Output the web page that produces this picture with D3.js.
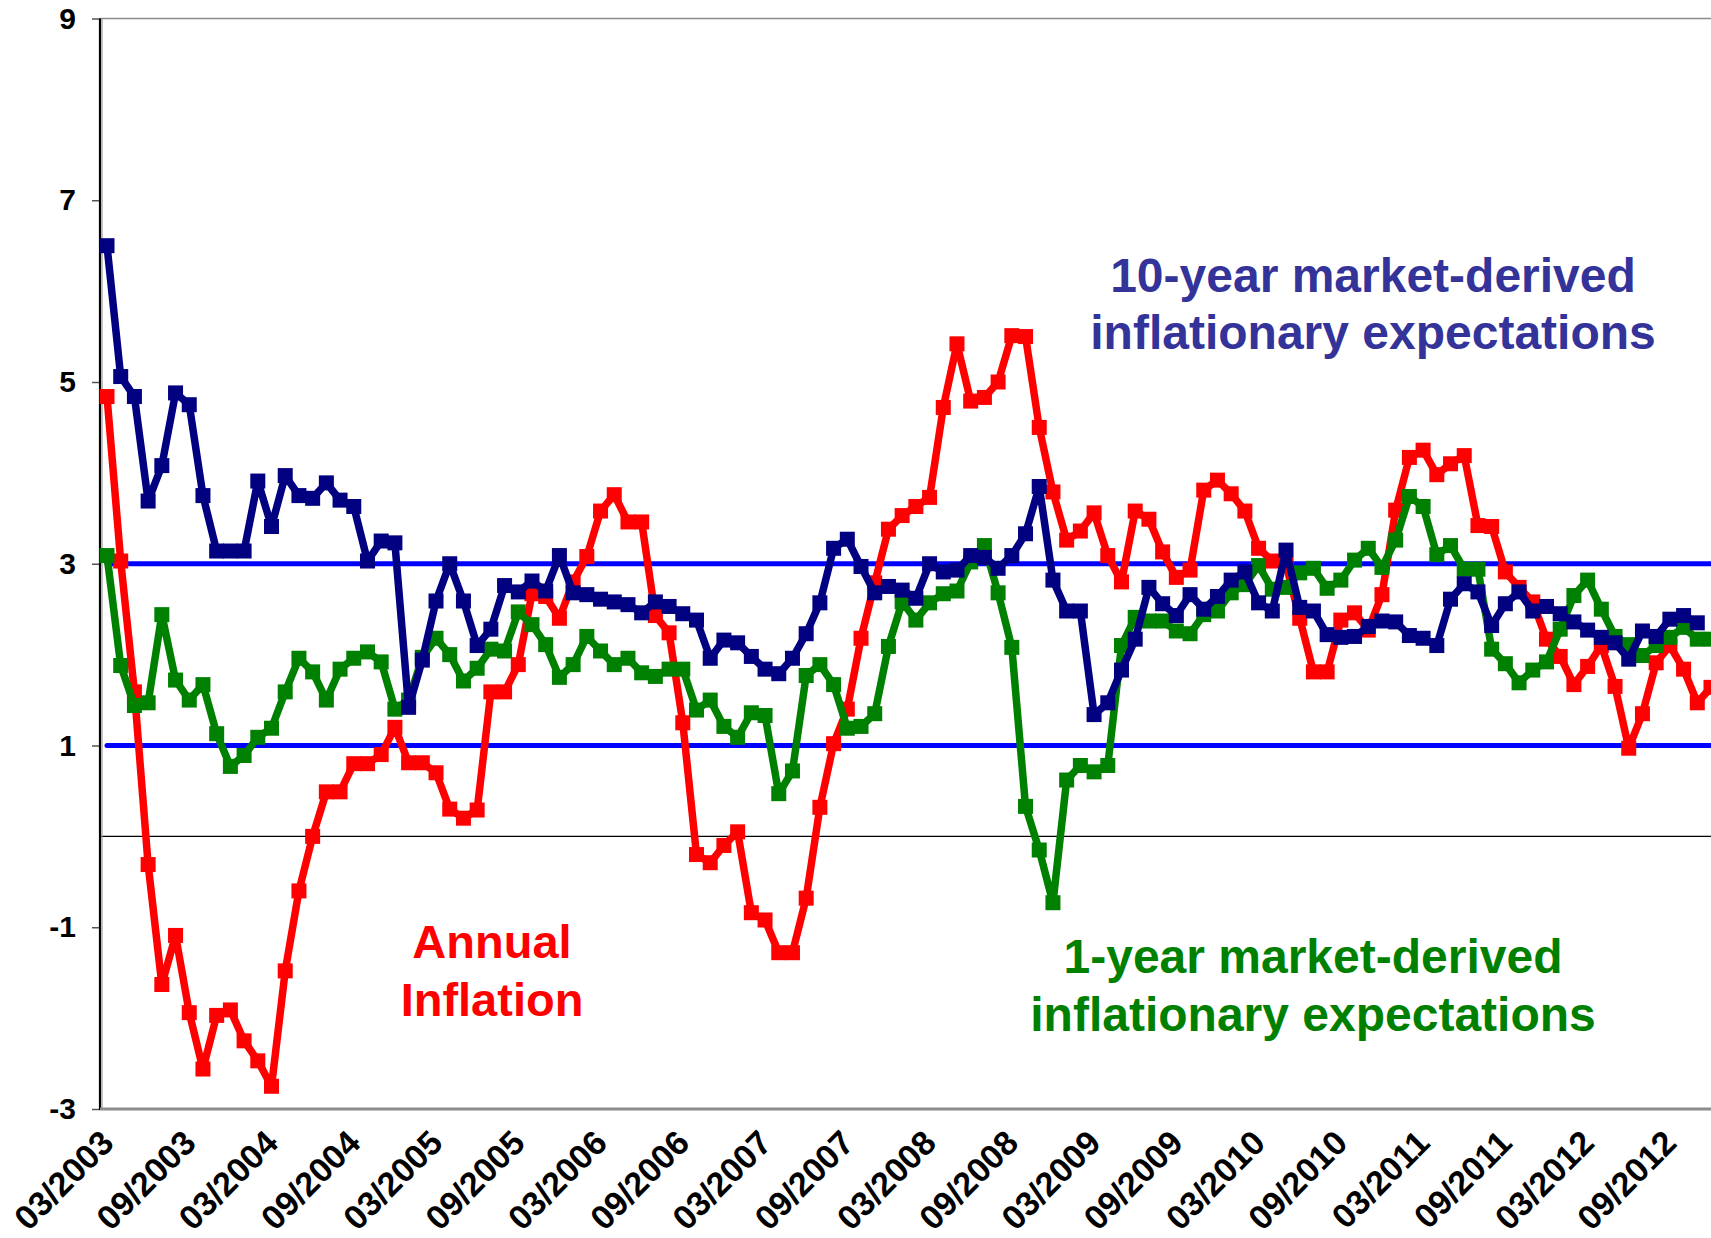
<!DOCTYPE html>
<html><head><meta charset="utf-8">
<script src="https://cdn.jsdelivr.net/npm/d3@7"></script>
<style>body{margin:0;background:#fff} svg{display:block}</style>
</head><body>
<svg id="c" width="1711" height="1238"></svg>
<script>
// ---- data ----
const tickLabels = ["03/2003","09/2003","03/2004","09/2004","03/2005","09/2005","03/2006","09/2006","03/2007","09/2007",
  "03/2008","09/2008","03/2009","09/2009","03/2010","09/2010","03/2011","09/2011","03/2012","09/2012"];
const yTicks = [-3,-1,1,3,5,7,9];
const inflation = [4.84, 3.03, 1.59, -0.31, -1.63, -1.09, -1.94, -2.56, -1.97, -1.91,
 -2.25, -2.47, -2.75, -1.48, -0.60, 0.00, 0.49, 0.49, 0.80, 0.80,
 0.90, 1.20, 0.81, 0.81, 0.70, 0.30, 0.20, 0.29, 1.59, 1.59,
 1.89, 2.67, 2.64, 2.40, 2.80, 3.08, 3.58, 3.76, 3.46, 3.46,
 2.43, 2.24, 1.25, -0.20, -0.29, -0.10, 0.05, -0.84, -0.92, -1.28,
 -1.28, -0.68, 0.32, 1.02, 1.40, 2.18, 2.79, 3.38, 3.53, 3.63,
 3.73, 4.72, 5.42, 4.79, 4.83, 5.00, 5.51, 5.50, 4.50, 3.79,
 3.26, 3.36, 3.56, 3.09, 2.80, 3.58, 3.49, 3.13, 2.85, 2.93,
 3.81, 3.92, 3.77, 3.58, 3.17, 3.03, 2.99, 2.40, 1.81, 1.81,
 2.38, 2.46, 2.27, 2.66, 3.59, 4.17, 4.25, 3.98, 4.10, 4.19,
 3.42, 3.41, 2.91, 2.74, 2.58, 2.17, 1.98, 1.67, 1.87, 2.10,
 1.65, 0.97, 1.35, 1.91, 2.10, 1.84, 1.47, 1.64];
const tenYear = [6.50, 5.06, 4.84, 3.69, 4.08, 4.88, 4.75, 3.75, 3.14, 3.14,
 3.14, 3.91, 3.41, 3.97, 3.75, 3.72, 3.89, 3.70, 3.63, 3.03,
 3.25, 3.23, 1.42, 1.94, 2.59, 3.00, 2.59, 2.10, 2.28, 2.76,
 2.69, 2.81, 2.70, 3.09, 2.68, 2.66, 2.61, 2.58, 2.55, 2.46,
 2.58, 2.53, 2.45, 2.38, 1.96, 2.16, 2.13, 1.98, 1.84, 1.79,
 1.96, 2.23, 2.57, 3.17, 3.27, 2.97, 2.68, 2.75, 2.71, 2.62,
 3.00, 2.91, 2.93, 3.09, 3.07, 2.95, 3.09, 3.33, 3.85, 2.82,
 2.48, 2.48, 1.34, 1.47, 1.83, 2.17, 2.74, 2.56, 2.43, 2.66,
 2.50, 2.64, 2.82, 2.91, 2.57, 2.48, 3.15, 2.52, 2.48, 2.22,
 2.19, 2.20, 2.31, 2.37, 2.36, 2.21, 2.18, 2.10, 2.61, 2.78,
 2.69, 2.32, 2.56, 2.69, 2.48, 2.53, 2.45, 2.36, 2.27, 2.19,
 2.13, 1.95, 2.26, 2.20, 2.39, 2.43, 2.35];
const oneYear = [3.09, 1.88, 1.44, 1.47, 2.44, 1.72, 1.50, 1.67, 1.13, 0.77,
 0.89, 1.09, 1.19, 1.59, 1.96, 1.81, 1.50, 1.84, 1.96, 2.03,
 1.92, 1.40, 1.50, 1.97, 2.18, 2.00, 1.71, 1.85, 2.06, 2.04,
 2.47, 2.33, 2.11, 1.75, 1.89, 2.20, 2.04, 1.89, 1.96, 1.80,
 1.76, 1.84, 1.84, 1.39, 1.50, 1.21, 1.09, 1.36, 1.33, 0.47,
 0.72, 1.77, 1.89, 1.67, 1.19, 1.21, 1.35, 2.09, 2.58, 2.38,
 2.57, 2.67, 2.70, 3.02, 3.20, 2.68, 2.08, 0.33, -0.15, -0.73,
 0.62, 0.78, 0.71, 0.78, 2.10, 2.41, 2.37, 2.37, 2.26, 2.23,
 2.44, 2.48, 2.68, 2.77, 2.98, 2.72, 2.74, 2.90, 2.95, 2.73,
 2.82, 3.04, 3.17, 2.96, 3.26, 3.74, 3.63, 3.10, 3.20, 2.94,
 2.94, 2.06, 1.90, 1.69, 1.83, 1.92, 2.28, 2.65, 2.82, 2.50,
 2.20, 2.11, 1.99, 2.10, 2.19, 2.30, 2.17, 2.17];
const upperBand = 3, lowerBand = 1;

(function () {
const months = d3.range(inflation.length).map(i => {
  const k = 2 + i; const m = k % 12 + 1; const yr = 2003 + Math.floor(k / 12);
  return String(m).padStart(2, "0") + "/" + yr;
});

const svg = d3.select("#c");
const axisX = 100, plotTop = 18.5, plotBottom = 1109, plotRight = 1711;
const x = d3.scalePoint().domain(months).range([107, 1711]);
const y = d3.scaleLinear().domain([-3, 9]).range([plotBottom, plotTop]);
const font = "'Liberation Sans', Arial, sans-serif";

svg.append("line").attr("x1", axisX).attr("x2", plotRight).attr("y1", plotTop).attr("y2", plotTop)
  .attr("stroke", "#8c8c8c").attr("stroke-width", 1.5);

svg.append("line").attr("x1", axisX).attr("x2", plotRight).attr("y1", y(0)).attr("y2", y(0))
  .attr("stroke", "#000").attr("stroke-width", 1.2);

[upperBand, lowerBand].forEach(v => {
  svg.append("path")
    .attr("d", d3.line()([[x(months[0]), y(v)], [plotRight + 5, y(v)]]))
    .attr("stroke", "#0000ff").attr("stroke-width", 5).attr("stroke-linecap", "round").attr("fill", "none");
});

const yAxis = d3.axisLeft(y).tickValues(yTicks).tickSize(8).tickPadding(16).tickFormat(d => String(d));
const gy = svg.append("g").attr("transform", `translate(${axisX},0)`).call(yAxis);
gy.select(".domain").remove();
gy.selectAll(".tick line").attr("stroke", "#555").attr("stroke-width", 1.5);
gy.selectAll(".tick text").attr("font-family", font).attr("font-weight", "bold")
  .attr("font-size", 30).attr("fill", "#000");
svg.append("line").attr("x1", axisX).attr("x2", axisX).attr("y1", plotTop).attr("y2", plotBottom + 1)
  .attr("stroke", "#000").attr("stroke-width", 2.2);
svg.append("line").attr("x1", axisX + 2).attr("x2", axisX + 2).attr("y1", plotTop).attr("y2", plotBottom)
  .attr("stroke", "#999").attr("stroke-width", 1.2);

const xAxis = d3.axisBottom(x).tickValues(tickLabels).tickSize(0);
const gx = svg.append("g").attr("transform", `translate(0,${plotBottom})`).call(xAxis);
gx.select(".domain").remove();
gx.selectAll(".tick text").attr("font-family", font).attr("font-weight", "bold")
  .attr("font-size", 34).attr("fill", "#000")
  .attr("text-anchor", "end").attr("dy", 0).attr("y", 0)
  .attr("transform", "translate(8,36) rotate(-45)");
svg.append("line").attr("x1", axisX).attr("x2", plotRight).attr("y1", plotBottom).attr("y2", plotBottom)
  .attr("stroke", "#8c8c8c").attr("stroke-width", 3);

const series = [
  { vals: inflation, color: "#ff0000" },
  { vals: oneYear, color: "#008000" },
  { vals: tenYear, color: "#000080" }
];
const line = d3.line().x(d => x(d.m)).y(d => y(d.v));
const S = 15;
series.forEach(s => {
  const pts = s.vals.map((v, i) => ({ m: months[i], v }));
  const g = svg.append("g");
  g.append("path").attr("d", line(pts)).attr("fill", "none").attr("stroke", s.color)
    .attr("stroke-width", 7.5).attr("stroke-linejoin", "round");
  g.selectAll("rect").data(pts).join("rect")
    .attr("x", d => x(d.m) - S / 2).attr("y", d => y(d.v) - S / 2)
    .attr("width", S).attr("height", S).attr("fill", s.color);
});

function label(lines, cx, baselines, color, size) {
  lines.forEach((t, i) => {
    svg.append("text").attr("x", cx).attr("y", baselines[i]).attr("text-anchor", "middle")
      .attr("font-family", font).attr("font-weight", "bold").attr("font-size", size)
      .attr("fill", color).text(t);
  });
}
label(["10-year market-derived", "inflationary expectations"], 1373, [292, 349], "#333399", 48);
label(["Annual", "Inflation"], 492, [958, 1016], "#ff0000", 47);
label(["1-year market-derived", "inflationary expectations"], 1313, [973, 1031], "#008000", 48);
})();
</script>
</body></html>
